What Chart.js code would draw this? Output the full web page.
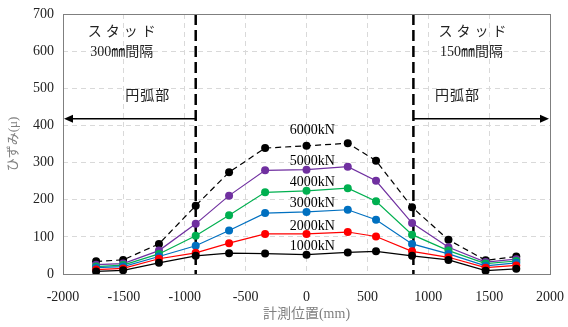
<!DOCTYPE html>
<html>
<head>
<meta charset="utf-8">
<script src="https://cdn.jsdelivr.net/npm/chart.js@4"></script>
<style>
  html, body { margin: 0; padding: 0; background: #fff; }
  #wrap { width: 568px; height: 327px; }
</style>
</head>
<body>
<div id="wrap"><canvas id="strainChart"></canvas></div>
<script>
// --- Data ---
const positions = [-1728, -1506, -1212, -910, -636, -340, 0, 339, 571, 867, 1166, 1471, 1723];
const strain1000 = [7, 10, 30, 49, 56, 55, 52, 58, 61, 49, 38, 9, 14];
const strain2000 = [12, 15, 41, 57, 83, 108, 108, 113, 101, 61, 45, 17, 23];
const strain3000 = [17, 20, 47, 76, 117, 164, 167, 173, 146, 81, 54, 22, 30];
const strain4000 = [20, 24, 54, 103, 158, 220, 224, 231, 196, 106, 63, 28, 35];
const strain5000 = [25, 28, 63, 135, 211, 279, 281, 289, 251, 137, 72, 32, 40];
const strain6000 = [34, 38, 81, 184, 274, 339, 345, 352, 305, 180, 92, 37, 47];

const loadLabels = ['1000kN', '2000kN', '3000kN', '4000kN', '5000kN', '6000kN'];
const xTickValues = [-2000, -1500, -1000, -500, 0, 500, 1000, 1500, 2000];
const yTickValues = [0, 100, 200, 300, 400, 500, 600, 700];

// boundaries of the arc part
const arcBoundaries = [-910, 878];
const arrowLevel = 418;

const serif = '"Liberation Serif", "Times New Roman", "Noto Sans CJK JP", serif';

function toPoints(vals) {
    return vals.map((v, i) => ({ x: positions[i], y: v }));
}

function series(label, vals, color, dashed) {
    return {
        label: label,
        data: toPoints(vals),
        borderColor: color,
        backgroundColor: color,
        borderWidth: 1.2,
        borderDash: dashed ? [6, 4] : [],
        pointRadius: 4,
        pointBorderWidth: 0,
        pointBackgroundColor: color,
        showLine: true,
        tension: 0
    };
}

// labels for each load level, placed in data units
const loadLabelPos = [
    { x: 47, y: 74 },
    { x: 47, y: 128 },
    { x: 47, y: 189 },
    { x: 47, y: 246 },
    { x: 47, y: 303 },
    { x: 47, y: 386 }
];

const decorPlugin = {
    id: 'decor',
    beforeDatasetsDraw(chart) {
        const { ctx, chartArea, scales } = chart;
        const xs = scales.x, ys = scales.y;
        ctx.save();
        // thick dashed boundary lines
        ctx.strokeStyle = '#000';
        ctx.lineWidth = 2.5;
        ctx.setLineDash([11, 5]);
        arcBoundaries.forEach(b => {
            const px = xs.getPixelForValue(b);
            ctx.beginPath();
            ctx.moveTo(px, chartArea.top);
            ctx.lineTo(px, chartArea.bottom);
            ctx.stroke();
        });
        ctx.setLineDash([]);

        // arrows
        const ay = ys.getPixelForValue(arrowLevel);
        const drawArrow = (from, to) => {
            ctx.strokeStyle = '#000';
            ctx.fillStyle = '#000';
            ctx.lineWidth = 1.3;
            const dir = Math.sign(to - from);
            ctx.beginPath();
            ctx.moveTo(from, ay);
            ctx.lineTo(to - dir * 7, ay);
            ctx.stroke();
            ctx.beginPath();
            ctx.moveTo(to, ay);
            ctx.lineTo(to - dir * 9, ay - 4);
            ctx.lineTo(to - dir * 9, ay + 4);
            ctx.closePath();
            ctx.fill();
        };
        drawArrow(xs.getPixelForValue(arcBoundaries[0]), chartArea.left + 1);
        drawArrow(xs.getPixelForValue(arcBoundaries[1]), chartArea.right - 1);
        ctx.restore();
    },
    afterDatasetsDraw(chart) {
        const { ctx, chartArea, scales } = chart;
        const xs = scales.x, ys = scales.y;
        ctx.save();
        // plot border
        ctx.strokeStyle = '#7f7f7f';
        ctx.lineWidth = 1;
        ctx.strokeRect(Math.round(chartArea.left) + 0.5, Math.round(chartArea.top) + 0.5,
            Math.round(chartArea.right - chartArea.left), Math.round(chartArea.bottom - chartArea.top));

        ctx.fillStyle = '#000';
        ctx.textAlign = 'center';
        ctx.textBaseline = 'middle';
        ctx.font = '14px ' + serif;
        loadLabels.forEach((t, i) => {
            ctx.fillText(t, xs.getPixelForValue(loadLabelPos[i].x), ys.getPixelForValue(loadLabelPos[i].y));
        });

        ctx.font = '14px ' + serif;
        ctx.fillStyle = '#222';
        ctx.letterSpacing = '4px';
        ctx.fillText('スタッド', xs.getPixelForValue(-1517) + 2, ys.getPixelForValue(650));
        ctx.fillText('スタッド', xs.getPixelForValue(1364) + 2, ys.getPixelForValue(650));
        ctx.letterSpacing = '0px';
        ctx.fillText('300㎜間隔', xs.getPixelForValue(-1517), ys.getPixelForValue(598));
        ctx.fillText('150㎜間隔', xs.getPixelForValue(1356), ys.getPixelForValue(596));
        ctx.letterSpacing = '1px';
        ctx.fillText('円弧部', xs.getPixelForValue(-1303), ys.getPixelForValue(478));
        ctx.fillText('円弧部', xs.getPixelForValue(1240), ys.getPixelForValue(478));
        ctx.restore();
    }
};

const ctx = document.getElementById('strainChart').getContext('2d');
new Chart(ctx, {
    type: 'scatter',
    data: {
        datasets: [
            series(loadLabels[0], strain1000, '#000000', false),
            series(loadLabels[1], strain2000, '#FF0000', false),
            series(loadLabels[2], strain3000, '#0070C0', false),
            series(loadLabels[3], strain4000, '#00B050', false),
            series(loadLabels[4], strain5000, '#7030A0', false),
            series(loadLabels[5], strain6000, '#000000', true)
        ]
    },
    options: {
        responsive: true,
        maintainAspectRatio: false,
        animation: false,
        layout: { padding: { left: 0, right: 18, top: 14, bottom: 0 } },
        plugins: {
            legend: { display: false },
            tooltip: { enabled: false }
        },
        scales: {
            x: {
                type: 'linear',
                min: -2000,
                max: 2000,
                afterBuildTicks: axis => { axis.ticks = xTickValues.map(v => ({ value: v })); },
                afterFit: axis => {
                    axis.height = 53;
                    axis.paddingLeft = 0;
                    axis.paddingRight = 0;
                },
                ticks: {
                    font: { family: serif, size: 14 },
                    color: '#222',
                    padding: 15,
                    maxRotation: 0,
                    callback: v => String(v)
                },
                grid: { color: '#d9d9d9', lineWidth: 1, drawTicks: false },
                border: { display: false, dash: [5, 4] },
                title: {
                    display: true,
                    text: '計測位置(mm)',
                    color: '#7f7f7f',
                    font: { family: serif, size: 14 },
                    padding: { top: 0, bottom: 4 }
                }
            },
            y: {
                type: 'linear',
                min: 0,
                max: 700,
                afterBuildTicks: axis => { axis.ticks = yTickValues.map(v => ({ value: v })); },
                afterFit: axis => {
                    axis.width = 63;
                    axis.paddingTop = 0;
                    axis.paddingBottom = 0;
                },
                ticks: {
                    font: { family: serif, size: 14 },
                    color: '#222',
                    padding: 9,
                    callback: v => String(v)
                },
                grid: { color: '#d9d9d9', lineWidth: 1, drawTicks: false },
                border: { display: false, dash: [5, 4] },
                title: {
                    display: true,
                    text: 'ひずみ(μ)',
                    color: '#7f7f7f',
                    font: { family: serif, size: 13 },
                    padding: { top: 6, bottom: 0 }
                }
            }
        }
    },
    plugins: [decorPlugin]
});
</script>
</body>
</html>
